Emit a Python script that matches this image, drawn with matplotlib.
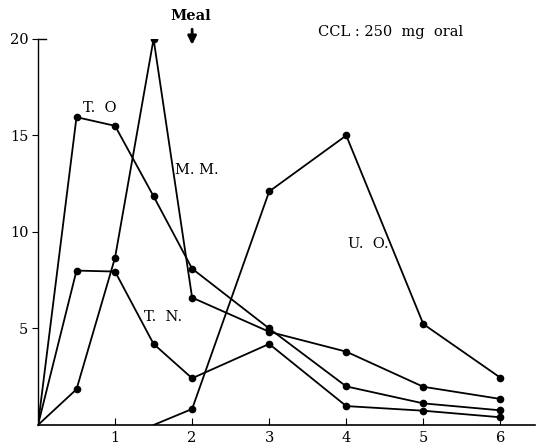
import matplotlib
matplotlib.use("Agg")
import matplotlib.pyplot as plt
from matplotlib.lines import Line2D

plt.rcParams['font.family'] = ['DejaVu Serif']

# Data (hours vs concentration)
t_to = [0, 0.5, 1, 1.5, 2, 3, 4, 5, 6]
v_to = [0, 15.95, 15.5, 11.85, 8.1, 5.0, 2.0, 1.12, 0.76]

t_mm = [0, 0.5, 1, 1.5, 2, 3, 4, 5, 6]
v_mm = [0, 1.85, 8.67, 20.0, 6.6, 4.83, 3.8, 1.98, 1.35]

t_tn = [0, 0.5, 1, 1.5, 2, 3, 4, 5, 6]
v_tn = [0, 8.0, 7.95, 4.2, 2.42, 4.2, 0.98, 0.74, 0.40]

t_uo = [1.5, 2, 3, 4, 5, 6]
v_uo = [0, 0.83, 12.1, 15.0, 5.23, 2.45]

xticks = [1, 2, 3, 4, 5, 6]
yticks = [5, 10, 15, 20]

fig = plt.figure(figsize=(5.41, 4.46), dpi=100)
ax = fig.add_axes([0.0702, 0.0471, 0.9188, 0.8655])

style = dict(color='black', lw=1.3, marker='o', markersize=4.5)
ax.plot(t_to, v_to, markevery=list(range(1, len(t_to))), **style)
ax.plot(t_mm, v_mm, markevery=list(range(1, len(t_mm))), **style)
ax.plot(t_tn, v_tn, markevery=list(range(1, len(t_tn))), **style)
ax.plot(t_uo, v_uo, markevery=list(range(1, len(t_uo))), **style)

ax.set_xlim(0, 6.45)
ax.set_ylim(0, 20)
ax.spines['top'].set_visible(False)
ax.spines['right'].set_visible(False)
ax.spines['left'].set_linewidth(1.0)
ax.spines['bottom'].set_linewidth(1.2)

ax.set_xticks(xticks)
ax.set_xticklabels([str(x) for x in xticks])
ax.set_yticks(yticks)
ax.set_yticklabels([str(y) for y in yticks])
ax.tick_params(axis='x', direction='in', length=5, width=0.8, labelsize=10.5, pad=4)
ax.tick_params(axis='y', direction='out', length=4, width=0.8, labelsize=10.5, pad=3)

# small inward tick at top of y axis
ax.add_line(Line2D([0, 0.1], [20, 20], color='black', lw=1.0, clip_on=False))

fs = 10.5
ax.text(0.80, 16.4, 'T.  O', fontsize=fs, ha='center', va='center')
ax.text(2.06, 13.2, 'M. M.', fontsize=fs, ha='center', va='center')
ax.text(1.62, 5.61, 'T.  N.', fontsize=fs, ha='center', va='center')
ax.text(4.28, 9.38, 'U.  O.', fontsize=fs, ha='center', va='center')
ax.text(4.58, 20.36, 'CCL : 250  mg  oral', fontsize=fs, ha='center', va='center', clip_on=False)
ax.text(1.98, 21.2, 'Meal', fontsize=fs, ha='center', va='center', fontweight='bold', clip_on=False)
ax.annotate('', xy=(2.0, 19.55), xytext=(2.0, 20.65),
            arrowprops=dict(arrowstyle='-|>,head_length=0.5,head_width=0.25', color='black', lw=2.0),
            annotation_clip=False)

fig.savefig('out.png', dpi=100)
